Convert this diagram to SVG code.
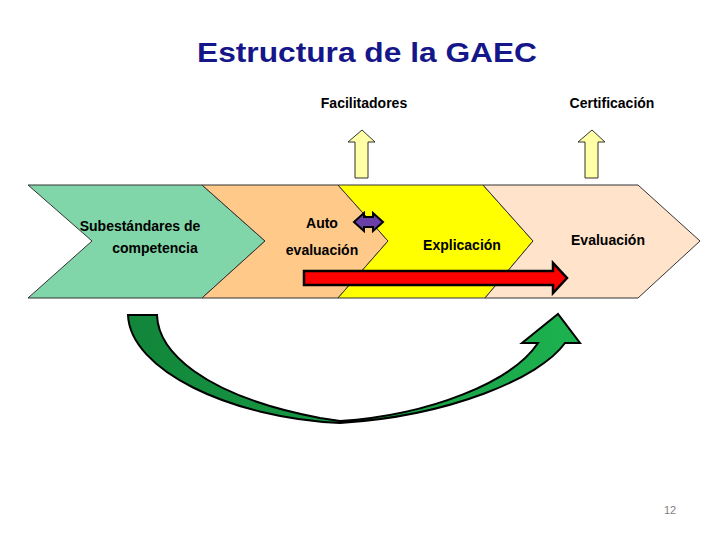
<svg xmlns="http://www.w3.org/2000/svg" width="720" height="540" viewBox="0 0 720 540">
<style>
.lbl{font-family:"Liberation Sans",Arial,sans-serif;font-size:14px;font-weight:bold;fill:#000;text-anchor:middle}
.chev{stroke:#333;stroke-width:1}
.up{fill:#FFFFA6;stroke:#333;stroke-width:1}
</style>
<defs>
<linearGradient id="gr" x1="0" y1="0" x2="1" y2="0">
<stop offset="0" stop-color="#12853A"/>
<stop offset="1" stop-color="#1DB24F"/>
</linearGradient>
</defs>
<rect width="720" height="540" fill="#fff"/>
<text x="367" y="62" font-family="'Liberation Sans',Arial,sans-serif" font-weight="bold" font-size="28" fill="#15168A" text-anchor="middle" textLength="340" lengthAdjust="spacingAndGlyphs">Estructura de la GAEC</text>
<g id="chev-subestandares">
<polygon class="chev" fill="#80D6A8" points="28,185 202,185 265,241 202,298 28,298 92,241"/>
<text class="lbl" x="140" y="231">Subestándares de</text>
<text class="lbl" x="155" y="253">competencia</text>
</g>
<g id="chev-auto">
<polygon class="chev" fill="#FFC98A" points="202,185 338,185 388,241 338,298 202,298 265,241"/>
<text class="lbl" x="322" y="228">Auto</text>
<text class="lbl" x="322" y="255">evaluación</text>
</g>
<g id="chev-explicacion">
<polygon class="chev" fill="#FFFF00" points="338,185 483,185 533,241 485,298 338,298 388,241"/>
<text class="lbl" x="462" y="250">Explicación</text>
</g>
<g id="chev-evaluacion">
<polygon class="chev" fill="#FFE3CA" points="483,185 638,185 700,241 638,298 485,298 533,241"/>
<text class="lbl" x="608" y="245">Evaluación</text>
</g>
<g id="facilitadores">
<text class="lbl" x="364" y="108">Facilitadores</text>
</g>
<g id="certificacion">
<text class="lbl" x="612" y="108">Certificación</text>
</g>
<g id="connectors">
<polygon class="up" points="362,130 375,142 368,142 368,178 355,178 355,142 348,142"/>
<polygon class="up" points="592,130 605,142 598,142 598,178 585,178 585,142 578,142"/>
<polygon fill="#6A40A8" stroke="#000" stroke-width="2" points="354,222 364,213 364,217 373,217 373,213 383,222 373,231 373,227 364,227 364,231"/>
<polygon fill="#FF0000" stroke="#000" stroke-width="2.5" points="304,271 553,271 553,263 567,278 553,293 553,285 304,285"/>
<path fill="url(#gr)" stroke="#000" stroke-width="2" d="M128,315 L157,315 C158,350 200,395 320,418 L340,421 C430,415 512,382 538,343 L522,343 L558,314 L580,343 L565,343 C540,378 450,416 340,423 C230,418 130,370 128,315 Z"/>
</g>
<text x="670" y="514" font-family="'Liberation Sans',Arial,sans-serif" font-size="11" fill="#7f7f7f" text-anchor="middle">12</text>
</svg>
